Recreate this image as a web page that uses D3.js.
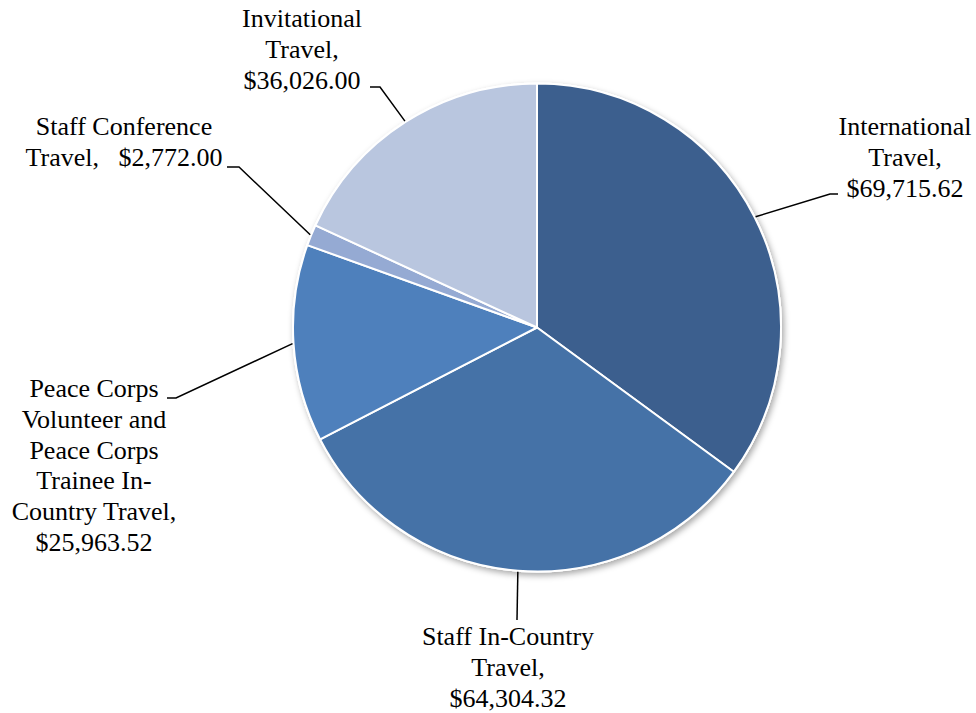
<!DOCTYPE html>
<html>
<head>
<meta charset="utf-8">
<script src="https://cdn.jsdelivr.net/npm/d3@7"></script>
<style>
  body { margin: 0; background: #fff; }
  text { font-family: "Liberation Serif", "Times New Roman", serif; font-size: 26px; fill: #000; white-space: pre; }
</style>
</head>
<body>
<div id="chart"></div>
<script>
// chart data
var categories = ["International Travel", "Staff In-Country Travel",
    "Peace Corps Volunteer and Peace Corps Trainee In-Country Travel",
    "Staff Conference Travel", "Invitational Travel"];
var amounts = [69715.62, 64304.32, 25963.52, 2772.00, 36026.00];
var labelLines = [
    ["International", "Travel,", "$69,715.62"],
    ["Staff In-Country", "Travel,", "$64,304.32"],
    ["Peace Corps", "Volunteer and", "Peace Corps", "Trainee In-", "Country Travel,", "$25,963.52"],
    ["Staff Conference", "Travel,   $2,772.00"],
    ["Invitational", "Travel,", "$36,026.00"]
];
var colors = ["#3c5f8e", "#4572a7", "#4e80bc", "#95aad3", "#b9c6df"];

// label placement: text centre, first baseline, leader elbow and end
var labelPos = [
    {x: 905, y: 135, elbow: [830, 194], end: [838, 194]},
    {x: 508, y: 645, elbow: [517, 620], end: [517, 620]},
    {x: 94,  y: 397, elbow: [176, 398], end: [167, 398]},
    {x: 124, y: 135, elbow: [239, 167], end: [227, 167]},
    {x: 302, y: 27,  elbow: [380, 87],  end: [370, 87]}
];

var width = 976, height = 713;
var cx = 537, cy = 327.5, radius = 245;
var lineH = 30.8;

var svg = d3.select("#chart").append("svg")
    .attr("width", width)
    .attr("height", height);

var defs = svg.append("defs");
var f = defs.append("filter").attr("id", "shadow")
    .attr("x", "-10%").attr("y", "-10%").attr("width", "120%").attr("height", "120%");
f.append("feDropShadow").attr("dx", 2).attr("dy", 3).attr("stdDeviation", 3)
    .attr("flood-color", "#000").attr("flood-opacity", 0.35);

var pie = d3.pie().sort(null).value(function(d) { return d; });
var arcs = pie(amounts);
var arc = d3.arc().innerRadius(0).outerRadius(radius - 1);

var g = svg.append("g").attr("transform", "translate(" + cx + "," + cy + ")");

g.append("circle").attr("r", radius).style("fill", "#fff").attr("filter", "url(#shadow)");

g.selectAll(".slice")
    .data(arcs)
  .enter().append("path")
    .attr("class", "slice")
    .attr("d", arc)
    .style("fill", function(d, i) { return colors[i]; })
    .style("stroke", "#fff")
    .style("stroke-width", 2)
    .style("stroke-linejoin", "round");

// leader lines from slice edge (mid angle) to label
svg.selectAll(".leader")
    .data(arcs)
  .enter().append("polyline")
    .attr("class", "leader")
    .attr("points", function(d, i) {
        var a = (d.startAngle + d.endAngle) / 2;
        var px = cx + radius * Math.sin(a), py = cy - radius * Math.cos(a);
        var p = labelPos[i];
        return [[px, py], p.elbow, p.end].map(function(q) { return q.join(","); }).join(" ");
    })
    .style("fill", "none")
    .style("stroke", "#000")
    .style("stroke-width", 1.5);

var labels = svg.selectAll(".label")
    .data(labelLines)
  .enter().append("text")
    .attr("class", "label")
    .attr("text-anchor", "middle");

labels.each(function(lines, i) {
    var t = d3.select(this);
    lines.forEach(function(s, j) {
        t.append("tspan")
            .attr("x", labelPos[i].x)
            .attr("y", labelPos[i].y + j * lineH)
            .text(s);
    });
});
</script>
</body>
</html>
